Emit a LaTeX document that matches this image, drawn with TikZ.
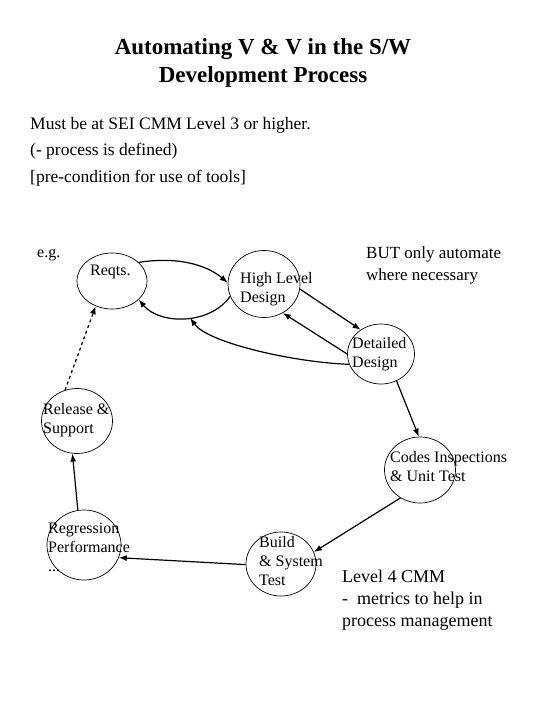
\documentclass[tikz,border=0pt]{standalone}
\usepackage{fontspec}
\setmainfont{Liberation Serif}
\usetikzlibrary{shapes.geometric,arrows.meta}
\begin{document}
\begin{tikzpicture}[x=1pt,y=-1pt,
  stage/.style={draw, ellipse, inner sep=0pt, line width=0.7pt},
  lbl/.style={anchor=north west, inner sep=0pt, align=left, font=\fontsize{16}{19}\selectfont},
  note/.style={anchor=north west, inner sep=0pt, align=left},
  flow/.style={line width=1.2pt, -{Latex[length=8pt,width=6pt]}}]
\useasboundingbox (0,0) rectangle (540,720);

% title and notes
\node[anchor=north, inner sep=0pt, align=center, font=\bfseries\fontsize{23}{28}\selectfont] (title) at (263,38.5)
  {Automating V \& V in the S/W\\Development Process};
\node[note, font=\fontsize{17.5}{26.5}\selectfont] (pre) at (30,117)
  {Must be at SEI CMM Level 3 or higher.\\(- process is defined)\\{[pre-condition for use of tools]}};
\node[note, font=\fontsize{16}{19}\selectfont] (eg) at (37,249.5) {e.g.};
\node[note, font=\fontsize{17}{22}\selectfont] (but) at (366,246.5) {BUT only automate\\where necessary};
\node[note, font=\fontsize{18}{22}\selectfont] (lvl) at (342,569.7) {Level 4 CMM\\-\ \ metrics to help in\\process management};

% stages
\node[stage, minimum width=70pt, minimum height=56pt] (reqts) at (112,281) {};
\node[stage, minimum width=72pt, minimum height=67pt] (hld) at (264,284) {};
\node[stage, minimum width=67pt, minimum height=60pt] (dd) at (381,354) {};
\node[stage, minimum width=71pt, minimum height=65pt] (rel) at (77,421) {};
\node[stage, minimum width=71pt, minimum height=66pt] (codes) at (420,470) {};
\node[stage, minimum width=74pt, minimum height=70pt] (reg) at (84,545) {};
\node[stage, minimum width=70pt, minimum height=64pt] (build) at (281,564) {};

% stage labels
\node[lbl] (reqtsT) at (90,264.4) {Reqts.};
\node[lbl] (hldT) at (240,272) {High Level\\Design};
\node[lbl] (ddT) at (352,337) {Detailed\\Design};
\node[lbl] (relT) at (43,403) {Release \&\\Support};
\node[lbl] (codesT) at (390,451) {Codes Inspections\\\& Unit Test};
\node[lbl] (regT) at (48,522.4) {Regression\\Performance\\...};
\node[lbl] (buildT) at (259,536) {Build\\\& System\\Test};

% connectors
\draw[flow] (reqts.35) .. controls (180,256) and (208,266) .. (hld.178);
\draw[flow] (hld.200) .. controls (210,325) and (160,325) .. coordinate[pos=0.45] (j) (reqts.-35);
\draw[flow] (dd.198) .. controls (290,362) and (207,342) .. (j);
\draw[flow] (hld.-8) -- (dd.130);
\draw[flow] (dd.180) -- (hld.-57);
\draw[flow] (dd.-60) -- (codes.92);
\draw[flow] (codes.-125) -- (build.20);
\draw[flow] (build.181) -- (reg.-20);
\draw[flow] (reg.100) -- (rel.-98);
\draw[flow, dashed] (rel.111) -- (reqts.237);
\end{tikzpicture}
\end{document}
